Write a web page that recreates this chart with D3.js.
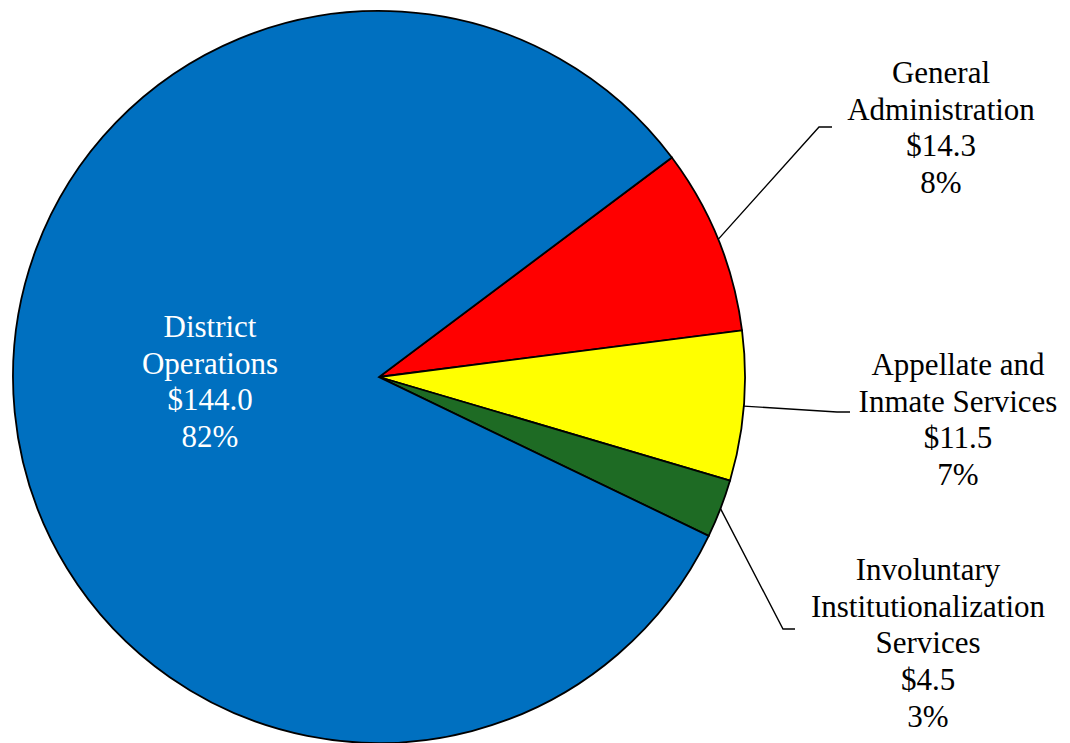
<!DOCTYPE html>
<html>
<head>
<meta charset="utf-8">
<script src="https://cdn.jsdelivr.net/npm/d3@7"></script>
<style>
  html, body { margin: 0; padding: 0; background: #fff; }
  svg { display: block; }
</style>
</head>
<body>
<svg id="chart" width="1070" height="743"></svg>
<script>
// Spending by program (millions of dollars)
const categories = [
  "General Administration",
  "Appellate and Inmate Services",
  "Involuntary Institutionalization Services",
  "District Operations"
];
const amounts = [14.3, 11.5, 4.5, 144.0];
const percentLabels = ["8%", "7%", "3%", "82%"];
const labelLines = [
  ["General", "Administration"],
  ["Appellate and", "Inmate Services"],
  ["Involuntary", "Institutionalization", "Services"],
  ["District", "Operations"]
];
const sliceColors = ["#FF0000", "#FFFF00", "#1E6B24", "#0070C0"];

// Label placement: text block centre, first baseline, leader elbow (null = inside slice)
const labelLayout = [
  { x: 941, y: 83,  elbow: [819, 127], end: [832, 127], color: "#000" },
  { x: 958, y: 375, elbow: [837, 412], end: [850, 412], color: "#000" },
  { x: 928, y: 580, elbow: [783, 629], end: [795, 629], color: "#000" },
  { x: 210, y: 337, elbow: null, color: "#fff" }
];

const cx = 379, cy = 377, radius = 366;
const startAngle = 53.15 * Math.PI / 180;
const fontSize = 31, lineHeight = 36.7;
const fontFamily = "'Liberation Serif', 'Times New Roman', Times, serif";

const svg = d3.select("#chart");
const g = svg.append("g").attr("transform", `translate(${cx},${cy})`);

const pie = d3.pie()
  .sort(null)
  .value(d => d.value)
  .startAngle(startAngle)
  .endAngle(startAngle + 2 * Math.PI);

const data = categories.map((c, i) => ({ name: c, value: amounts[i], i }));
const arcs = pie(data);

const arc = d3.arc().innerRadius(0).outerRadius(radius);

g.selectAll("path.slice")
  .data(arcs)
  .join("path")
  .attr("class", "slice")
  .attr("d", arc)
  .attr("fill", d => sliceColors[d.data.i])
  .attr("stroke", "#000")
  .attr("stroke-width", 1.8)
  .attr("stroke-linejoin", "miter");

// Leader lines from the slice's outer edge midpoint to the label
arcs.forEach(d => {
  const lay = labelLayout[d.data.i];
  if (!lay.elbow) return;
  const mid = (d.startAngle + d.endAngle) / 2;
  const sx = cx + radius * Math.sin(mid);
  const sy = cy - radius * Math.cos(mid);
  svg.append("polyline")
    .attr("points", [[sx, sy], lay.elbow, lay.end].map(p => p.join(",")).join(" "))
    .attr("fill", "none")
    .attr("stroke", "#000")
    .attr("stroke-width", 1.4);
});

// Labels: category name lines, dollar amount, percentage
arcs.forEach(d => {
  const i = d.data.i;
  const lay = labelLayout[i];
  const lines = labelLines[i].concat(["$" + d3.format(".1f")(amounts[i]), percentLabels[i]]);
  const t = svg.append("text")
    .attr("text-anchor", "middle")
    .attr("font-family", fontFamily)
    .attr("font-size", fontSize)
    .attr("fill", lay.color);
  lines.forEach((ln, k) => {
    t.append("tspan")
      .attr("x", lay.x)
      .attr("y", lay.y + k * lineHeight)
      .text(ln);
  });
});
</script>
</body>
</html>
